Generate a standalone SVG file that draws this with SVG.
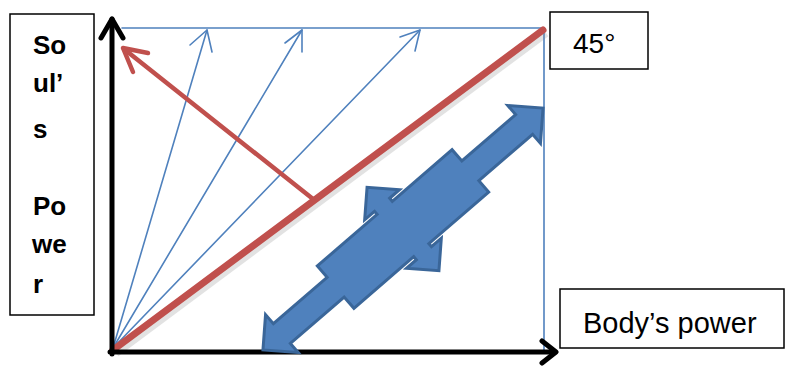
<svg xmlns="http://www.w3.org/2000/svg" width="785" height="366" viewBox="0 0 785 366">
  <style>
    .box { fill: #ffffff; stroke: #000000; stroke-width: 1.5; }
    .lbl { font-family: "Liberation Sans", Arial, sans-serif; fill: #000000; }
    .soul { font-weight: bold; font-size: 26px; }
    .thin { fill: none; stroke: #4F81BD; stroke-width: 1.6; stroke-linecap: round; stroke-linejoin: round; }
    .axis { fill: none; stroke: #000000; stroke-width: 5; stroke-linecap: round; stroke-linejoin: round; }
    .red { fill: none; stroke: #C0504D; stroke-linecap: round; stroke-linejoin: round; }
  </style>
  <rect width="785" height="366" fill="#ffffff"/>

  <g id="soul-label">
    <rect class="box" x="10" y="14" width="84" height="301"/>
    <text class="lbl soul" x="33" y="54">So</text>
    <text class="lbl soul" x="33" y="92">ul’</text>
    <text class="lbl soul" x="33" y="138">s</text>
    <text class="lbl soul" x="33" y="215">Po</text>
    <text class="lbl soul" x="32" y="253">we</text>
    <text class="lbl soul" x="33" y="293">r</text>
  </g>

  <g id="angle-label">
    <rect class="box" x="550" y="12" width="98" height="57"/>
    <text class="lbl" x="573" y="53" font-size="28">45°</text>
  </g>

  <g id="body-label">
    <rect class="box" x="560" y="289" width="224" height="59"/>
    <text class="lbl" x="583" y="333" font-size="29">Body’s power</text>
  </g>

  <g id="frame">
    <polyline class="thin" points="122,28 544,28 544,352"/>
  </g>

  <g id="connectors">
    <!-- thin blue rays -->
    <line class="thin" x1="113" y1="348" x2="207" y2="30"/>
    <polyline class="thin" points="190,45 207,30 212,52"/>
    <line class="thin" x1="113" y1="348" x2="302" y2="30"/>
    <polyline class="thin" points="285,43 302,30 302,52"/>
    <line class="thin" x1="113" y1="348" x2="420" y2="30"/>
    <polyline class="thin" points="400,37 420,30 415,51"/>

    <!-- red 45 degree line -->
    <line x1="116" y1="353" x2="546" y2="33" stroke="#8a8a8a" stroke-opacity="0.25" stroke-width="8"/>
    <line class="red" x1="113" y1="350" x2="543" y2="30" stroke-width="7" stroke-linecap="butt"/>

    <!-- red perpendicular arrow -->
    <line class="red" x1="313" y1="199" x2="124" y2="49" stroke-width="4.5"/>
    <polyline class="red" points="148,53 123,48 133,72" stroke-width="4.5"/>

    <!-- axes -->
    <line class="axis" x1="112" y1="354" x2="112" y2="19"/>
    <polyline class="axis" points="101,38 112,19 123,38"/>
    <line class="axis" x1="110" y1="352" x2="555" y2="352"/>
    <polyline class="axis" points="542,341 556,352 542,363"/>
  </g>

  <g id="double-arrow" transform="translate(403,229) rotate(-40.8)">
    <path fill="#4F81BD" stroke="#3A6699" stroke-width="3" stroke-linejoin="miter"
      d="M185,0 L160,25 L160,13 L89,13 L89,28 L10,28 L10,32 L23,32 L0,55 L-23,32 L-10,32 L-10,28 L-89,28 L-89,13 L-160,13 L-160,25 L-185,0 L-160,-25 L-160,-13 L-89,-13 L-89,-28 L-10,-28 L-10,-32 L-23,-32 L0,-55 L23,-32 L10,-32 L10,-28 L89,-28 L89,-13 L160,-13 L160,-25 Z"/>
  </g>
</svg>
